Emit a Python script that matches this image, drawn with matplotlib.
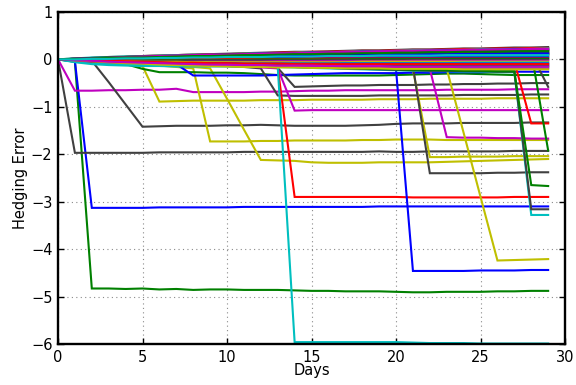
import matplotlib
matplotlib.use("Agg")
import matplotlib.pyplot as plt

# MATLAB-style line colours
PALETTE = {
    "b": "#0000ff", "g": "#008000", "r": "#ff0000", "c": "#00bfbf",
    "m": "#bf00bf", "y": "#bfbf00", "k": "#404040",
}

days = list(range(30))

# Paths that stay in the main band around zero
bundle_colors = ["k", "r", "c", "b", "g", "m", "y", "c", "r", "b", "k", "g",
                 "m", "y", "c", "b", "r", "g", "k", "m", "y", "c", "b", "m",
                 "g", "c", "m", "y", "k", "b", "m", "r", "m", "g", "c"]
bundle_paths = [
    [0, .02, .03, .05, .06, .07, .08, .09, .10, .11, .12, .13, .14, .15, .16, .16, .17, .18, .19, .19, .20, .21, .21, .22, .23, .23, .24, .25, .25, .26],
    [0, .01, .03, .04, .05, .07, .08, .09, .10, .11, .11, .12, .13, .14, .15, .16, .16, .17, .18, .18, .19, .20, .20, .21, .22, .22, .23, .23, .24, .24],
    [0, .02, .04, .05, .06, .07, .08, .09, .10, .10, .11, .12, .13, .13, .14, .15, .15, .16, .17, .17, .18, .19, .19, .20, .20, .21, .21, .22, .22, .23],
    [0, .01, .02, .03, .04, .05, .06, .07, .08, .09, .10, .11, .12, .12, .13, .14, .14, .15, .16, .16, .17, .17, .18, .19, .19, .20, .20, .21, .21, .21],
    [0, .01, .02, .04, .05, .06, .07, .07, .08, .09, .10, .10, .11, .12, .12, .13, .14, .14, .15, .15, .16, .16, .17, .17, .18, .18, .18, .19, .19, .19],
    [0, .01, .02, .03, .04, .05, .05, .06, .07, .08, .08, .09, .10, .10, .11, .11, .12, .13, .13, .14, .14, .15, .15, .16, .16, .17, .17, .17, .18, .18],
    [0, .00, .01, .02, .03, .04, .05, .05, .06, .07, .07, .08, .09, .09, .10, .10, .11, .11, .12, .12, .13, .13, .14, .14, .15, .15, .15, .16, .16, .16],
    [0, .01, .02, .03, .03, .04, .05, .06, .06, .07, .08, .08, .09, .09, .10, .10, .11, .11, .12, .12, .12, .13, .13, .14, .14, .14, .15, .15, .15, .15],
    [0, .01, .01, .02, .03, .04, .04, .05, .06, .06, .07, .07, .08, .08, .09, .09, .10, .10, .11, .11, .11, .12, .12, .13, .13, .13, .14, .14, .14, .14],
    [0, .00, .01, .02, .02, .03, .04, .04, .05, .05, .06, .06, .07, .07, .08, .08, .09, .09, .09, .10, .10, .10, .11, .11, .11, .12, .12, .12, .12, .12],
    [0, .01, .02, .02, .03, .03, .04, .04, .05, .05, .06, .06, .06, .07, .07, .08, .08, .08, .09, .09, .09, .10, .10, .10, .10, .11, .11, .11, .11, .11],
    [0, -.01, .00, .01, .01, .02, .03, .03, .04, .04, .05, .05, .06, .06, .06, .07, .07, .07, .08, .08, .08, .09, .09, .09, .09, .10, .10, .10, .10, .10],
    [0, .00, .00, .01, .01, .02, .02, .03, .03, .03, .04, .04, .04, .05, .05, .05, .06, .06, .06, .06, .07, .07, .07, .07, .08, .08, .08, .08, .08, .08],
    [0, .01, .01, .02, .02, .02, .03, .03, .03, .04, .04, .04, .04, .05, .05, .05, .05, .06, .06, .06, .06, .06, .06, .07, .07, .07, .07, .07, .07, .07],
    [0, -.01, -.01, .00, .00, .01, .01, .01, .02, .02, .02, .03, .03, .03, .03, .04, .04, .04, .04, .04, .05, .05, .05, .05, .05, .05, .05, .05, .05, .05],
    [0, .00, .00, .00, .01, .01, .01, .01, .02, .02, .02, .02, .02, .03, .03, .03, .03, .03, .03, .04, .04, .04, .04, .04, .04, .04, .04, .04, .04, .04],
    [0, -.01, -.01, -.01, .00, .00, .00, .00, .01, .01, .01, .01, .01, .01, .01, .02, .02, .02, .02, .02, .02, .02, .02, .02, .02, .02, .02, .02, .02, .02],
    [0, -.02, -.03, -.03, -.03, -.02, -.02, -.02, -.01, -.01, -.01, -.01, .00, .00, .00, .00, .00, .00, .01, .01, .01, .01, .01, .01, .01, .01, .01, .01, .01, .01],
    [0, -.02, -.03, -.03, -.03, -.03, -.03, -.03, -.02, -.02, -.02, -.02, -.02, -.02, -.02, -.02, -.01, -.01, -.01, -.01, -.01, -.01, -.01, -.01, -.01, -.01, -.01, -.01, -.01, -.01],
    [0, -.03, -.05, -.06, -.06, -.06, -.06, -.06, -.05, -.05, -.05, -.05, -.05, -.04, -.04, -.04, -.04, -.04, -.04, -.04, -.04, -.03, -.03, -.03, -.03, -.03, -.03, -.03, -.03, -.03],
    [0, -.02, -.03, -.04, -.04, -.05, -.05, -.05, -.06, -.06, -.06, -.06, -.06, -.06, -.06, -.06, -.06, -.06, -.05, -.05, -.05, -.05, -.05, -.05, -.05, -.05, -.05, -.05, -.05, -.05],
    [0, -.05, -.08, -.10, -.11, -.11, -.11, -.11, -.10, -.10, -.10, -.10, -.09, -.09, -.09, -.09, -.09, -.08, -.08, -.08, -.08, -.08, -.08, -.08, -.07, -.07, -.07, -.07, -.07, -.07],
    [0, -.02, -.04, -.05, -.06, -.07, -.07, -.08, -.08, -.08, -.08, -.09, -.09, -.09, -.09, -.09, -.09, -.09, -.09, -.09, -.09, -.09, -.09, -.09, -.09, -.09, -.09, -.09, -.09, -.09],
    [0, -.03, -.05, -.06, -.07, -.08, -.09, -.09, -.10, -.10, -.10, -.11, -.11, -.11, -.11, -.11, -.12, -.12, -.12, -.12, -.12, -.12, -.12, -.12, -.12, -.12, -.12, -.12, -.12, -.12],
    [0, -.02, -.04, -.05, -.06, -.07, -.08, -.09, -.10, -.10, -.11, -.11, -.12, -.12, -.12, -.13, -.13, -.13, -.13, -.13, -.14, -.14, -.14, -.14, -.14, -.14, -.14, -.14, -.14, -.14],
    [0, -.06, -.10, -.12, -.13, -.14, -.14, -.15, -.15, -.15, -.15, -.16, -.16, -.16, -.16, -.16, -.16, -.16, -.17, -.17, -.17, -.17, -.17, -.17, -.17, -.17, -.17, -.17, -.17, -.17],
    [0, -.01, -.03, -.05, -.06, -.08, -.09, -.10, -.11, -.12, -.13, -.13, -.14, -.15, -.15, -.16, -.16, -.17, -.17, -.17, -.18, -.18, -.18, -.18, -.19, -.19, -.19, -.19, -.19, -.19],
    [0, -.02, -.04, -.06, -.08, -.09, -.11, -.12, -.13, -.14, -.15, -.16, -.16, -.17, -.17, -.18, -.18, -.19, -.19, -.19, -.20, -.20, -.20, -.20, -.21, -.21, -.21, -.21, -.21, -.21],
    [0, .01, .03, .04, .05, .06, .07, .08, .09, .10, .11, .11, .12, .13, .13, .14, .15, .15, .16, .16, .17, .17, .18, .18, .19, .19, .19, .20, .20, .20],
    [0, .01, .02, .02, .03, .04, .04, .05, .05, .06, .06, .07, .07, .08, .08, .09, .09, .10, .10, .10, .11, .11, .11, .12, .12, .12, .13, .13, .13, .13],
    [0, .01, .02, .03, .05, .06, .07, .08, .09, .10, .10, .11, .12, .13, .13, .14, .15, .16, .16, .17, .18, .18, .19, .19, .20, .20, .21, .21, .22, .22],
    [0, -.01, -.02, -.03, -.04, -.05, -.06, -.07, -.07, -.08, -.08, -.09, -.09, -.09, -.10, -.10, -.10, -.10, -.10, -.10, -.10, -.10, -.10, -.10, -.10, -.10, -.10, -.10, -.10, -.10],
    [0, -.02, -.03, -.05, -.06, -.07, -.08, -.09, -.10, -.11, -.11, -.12, -.12, -.13, -.13, -.13, -.14, -.14, -.14, -.14, -.15, -.15, -.15, -.15, -.15, -.15, -.15, -.15, -.15, -.15],
    [0, .01, .02, .03, .04, .04, .05, .06, .07, .07, .08, .09, .09, .10, .11, .11, .12, .12, .13, .13, .14, .14, .15, .15, .16, .16, .16, .17, .17, .17],
    [0, .00, .01, .01, .02, .02, .03, .03, .04, .04, .05, .05, .05, .06, .06, .06, .07, .07, .07, .08, .08, .08, .08, .09, .09, .09, .09, .09, .09, .09],
]

# Paths with a sudden loss, listed roughly by the day the loss happens
jump_colors = ["g", "b", "k", "m", "k", "y", "y", "y", "g", "b", "k", "k", "m",
               "r", "c", "b", "y", "k", "m", "y", "r", "c", "k", "g", "g", "k"]
jump_paths = [
    [0, -.05, -4.83, -4.83, -4.84, -4.83, -4.85, -4.84, -4.86, -4.85, -4.85, -4.86, -4.86, -4.86, -4.87, -4.88, -4.88, -4.89, -4.89, -4.89, -4.90, -4.91, -4.91, -4.90, -4.90, -4.90, -4.89, -4.89, -4.88, -4.88],
    [0, -.04, -3.13, -3.13, -3.13, -3.13, -3.12, -3.12, -3.12, -3.12, -3.12, -3.11, -3.11, -3.11, -3.11, -3.11, -3.11, -3.11, -3.11, -3.10, -3.10, -3.10, -3.10, -3.10, -3.10, -3.10, -3.10, -3.10, -3.10, -3.10],
    [0, -1.97, -1.97, -1.97, -1.97, -1.97, -1.96, -1.96, -1.96, -1.96, -1.96, -1.95, -1.95, -1.95, -1.95, -1.95, -1.95, -1.95, -1.95, -1.94, -1.95, -1.95, -1.94, -1.94, -1.94, -1.94, -1.94, -1.93, -1.93, -1.93],
    [0, -.66, -.66, -.65, -.65, -.64, -.64, -.62, -.69, -.69, -.69, -.69, -.68, -.68, -.67, -.66, -.66, -.65, -.65, -.65, -.65, -.65, -.65, -.64, -.64, -.64, -.64, -.63, -.63, -.63],
    [0, -.02, -.03, -.48, -.95, -1.42, -1.41, -1.40, -1.40, -1.40, -1.39, -1.39, -1.38, -1.39, -1.40, -1.40, -1.40, -1.40, -1.39, -1.38, -1.36, -1.35, -1.35, -1.35, -1.34, -1.34, -1.34, -1.34, -1.33, -1.33],
    [0, -.02, -.04, -.06, -.09, -.14, -.89, -.88, -.87, -.87, -.87, -.87, -.86, -.86, -.86, -.85, -.85, -.85, -.85, -.84, -.84, -.84, -.83, -.83, -.83, -.83, -.82, -.82, -.82, -.82],
    [0, -.01, -.03, -.05, -.08, -.10, -.13, -.16, -.19, -1.73, -1.73, -1.73, -1.72, -1.72, -1.71, -1.71, -1.71, -1.71, -1.70, -1.70, -1.69, -1.69, -1.69, -1.70, -1.70, -1.70, -1.70, -1.70, -1.70, -1.70],
    [0, -.01, -.02, -.04, -.06, -.08, -.11, -.13, -.16, -.19, -.83, -1.48, -2.12, -2.13, -2.14, -2.17, -2.18, -2.18, -2.18, -2.17, -2.17, -2.17, -2.17, -2.16, -2.15, -2.14, -2.13, -2.12, -2.11, -2.10],
    [0, -.02, -.04, -.07, -.10, -.20, -.27, -.27, -.27, -.28, -.28, -.29, -.31, -.33, -.34, -.34, -.34, -.34, -.34, -.34, -.33, -.32, -.31, -.30, -.30, -.31, -.32, -.33, -.33, -.33],
    [0, -.01, -.03, -.04, -.06, -.07, -.09, -.10, -.34, -.34, -.34, -.34, -.34, -.33, -.32, -.31, -.30, -.29, -.29, -.29, -.29, -.28, -.28, -.27, -.27, -.27, -.26, -.26, -.26, -.26],
    [0, -.01, -.02, -.03, -.05, -.06, -.08, -.09, -.11, -.12, -.14, -.16, -.19, -.76, -.77, -.77, -.77, -.77, -.77, -.76, -.76, -.76, -.76, -.76, -.75, -.75, -.75, -.75, -.74, -.74],
    [0, -.01, -.02, -.03, -.04, -.05, -.06, -.07, -.09, -.10, -.11, -.13, -.15, -.18, -.58, -.57, -.56, -.55, -.55, -.54, -.54, -.54, -.53, -.53, -.52, -.52, -.51, -.51, -.50, -.50],
    [0, -.01, -.03, -.04, -.05, -.07, -.08, -.09, -.11, -.12, -.13, -.15, -.17, -.19, -1.08, -1.07, -1.07, -1.07, -1.07, -1.07, -1.07, -1.07, -1.07, -1.07, -1.07, -1.07, -1.07, -1.07, -1.07, -1.07],
    [0, -.01, -.02, -.03, -.04, -.05, -.07, -.08, -.09, -.10, -.12, -.13, -.15, -.17, -2.90, -2.90, -2.90, -2.90, -2.90, -2.90, -2.90, -2.91, -2.91, -2.91, -2.91, -2.91, -2.91, -2.90, -2.90, -2.90],
    [0, -.02, -.04, -.05, -.06, -.08, -.09, -.10, -.11, -.12, -.13, -.14, -.15, -.16, -5.96, -5.96, -5.96, -5.96, -5.96, -5.96, -5.96, -5.97, -5.98, -5.98, -5.98, -5.99, -5.99, -5.99, -5.99, -5.99],
    [0, -.01, -.02, -.03, -.04, -.05, -.06, -.07, -.08, -.09, -.10, -.11, -.12, -.13, -.14, -.15, -.16, -.17, -.18, -.20, -.22, -4.46, -4.46, -4.46, -4.46, -4.45, -4.45, -4.45, -4.44, -4.44],
    [0, -.01, -.02, -.03, -.04, -.05, -.06, -.07, -.08, -.09, -.10, -.11, -.12, -.13, -.14, -.15, -.16, -.17, -.18, -.19, -.20, -.21, -2.06, -2.06, -2.05, -2.05, -2.05, -2.04, -2.04, -2.04],
    [0, -.01, -.02, -.02, -.03, -.04, -.04, -.05, -.06, -.06, -.07, -.08, -.08, -.09, -.10, -.10, -.11, -.12, -.12, -.13, -.14, -.15, -2.40, -2.40, -2.40, -2.40, -2.39, -2.39, -2.38, -2.38],
    [0, -.01, -.02, -.03, -.04, -.05, -.06, -.07, -.08, -.09, -.10, -.11, -.12, -.12, -.13, -.14, -.15, -.16, -.17, -.17, -.18, -.19, -.20, -1.64, -1.65, -1.65, -1.66, -1.66, -1.67, -1.67],
    [0, -.01, -.02, -.03, -.04, -.05, -.06, -.06, -.07, -.08, -.09, -.10, -.11, -.12, -.12, -.13, -.14, -.15, -.16, -.16, -.17, -.18, -.19, -.20, -1.55, -2.90, -4.24, -4.23, -4.22, -4.21],
    [0, .00, .01, .01, .01, .02, .02, .02, .02, .02, .03, .03, .03, .03, .03, .03, .03, .02, .02, .02, .01, .01, .00, .00, -.01, -.02, -.03, -.05, -1.35, -1.35],
    [0, -.02, -.04, -.06, -.07, -.08, -.09, -.10, -.11, -.12, -.13, -.14, -.15, -.16, -.17, -.18, -.19, -.20, -.21, -.22, -.23, -.24, -.25, -.25, -.26, -.26, -.27, -.27, -3.28, -3.28],
    [0, -.02, -.03, -.05, -.06, -.07, -.08, -.09, -.10, -.11, -.12, -.13, -.14, -.15, -.16, -.17, -.18, -.19, -.20, -.21, -.22, -.23, -.24, -.24, -.25, -.25, -.26, -.26, -3.16, -3.16],
    [0, -.01, -.02, -.04, -.05, -.06, -.07, -.08, -.09, -.10, -.11, -.12, -.13, -.14, -.15, -.16, -.17, -.18, -.19, -.20, -.21, -.22, -.22, -.23, -.24, -.24, -.25, -.25, -2.65, -2.67],
    [0, .01, .02, .03, .03, .04, .05, .05, .06, .07, .07, .08, .08, .09, .10, .10, .11, .11, .12, .12, .13, .13, .14, .14, .15, .15, .15, .16, .16, -1.92],
    [0, .01, .01, .02, .02, .03, .03, .04, .04, .05, .05, .06, .06, .07, .07, .07, .08, .08, .09, .09, .09, .10, .10, .10, .11, .11, .11, .12, .12, -.58],
]

x_ticks = [0, 5, 10, 15, 20, 25, 30]
y_ticks = [-6, -5, -4, -3, -2, -1, 0, 1]

plt.rcParams["font.family"] = ["DejaVu Sans"]

fig, ax = plt.subplots(figsize=(5.76, 3.85), dpi=100)
fig.subplots_adjust(left=0.1007, right=0.981, top=0.969, bottom=0.1065)

for path, c in zip(jump_paths, jump_colors):
    ax.plot(days, path, color=PALETTE[c], lw=1.5, solid_joinstyle="miter")
for path, c in zip(bundle_paths, bundle_colors):
    ax.plot(days, path, color=PALETTE[c], lw=1.5, solid_joinstyle="miter")

ax.set_xlim(0, 30)
ax.set_ylim(-6, 1)
ax.set_xticks(x_ticks)
ax.set_yticks(y_ticks)
ax.grid(True, color="#8a8a8a", linestyle=(0, (1, 3)), linewidth=0.8)
ax.tick_params(direction="in", length=4, width=1.0, top=True, right=True,
               labelsize=10.5, pad=4, colors="black")
for spine in ax.spines.values():
    spine.set_linewidth(1.7)

ax.set_xlabel("Days", fontsize=10.5, labelpad=-1)
ax.set_ylabel("Hedging Error", fontsize=10.5, labelpad=2)

fig.savefig("out.png", dpi=100)
